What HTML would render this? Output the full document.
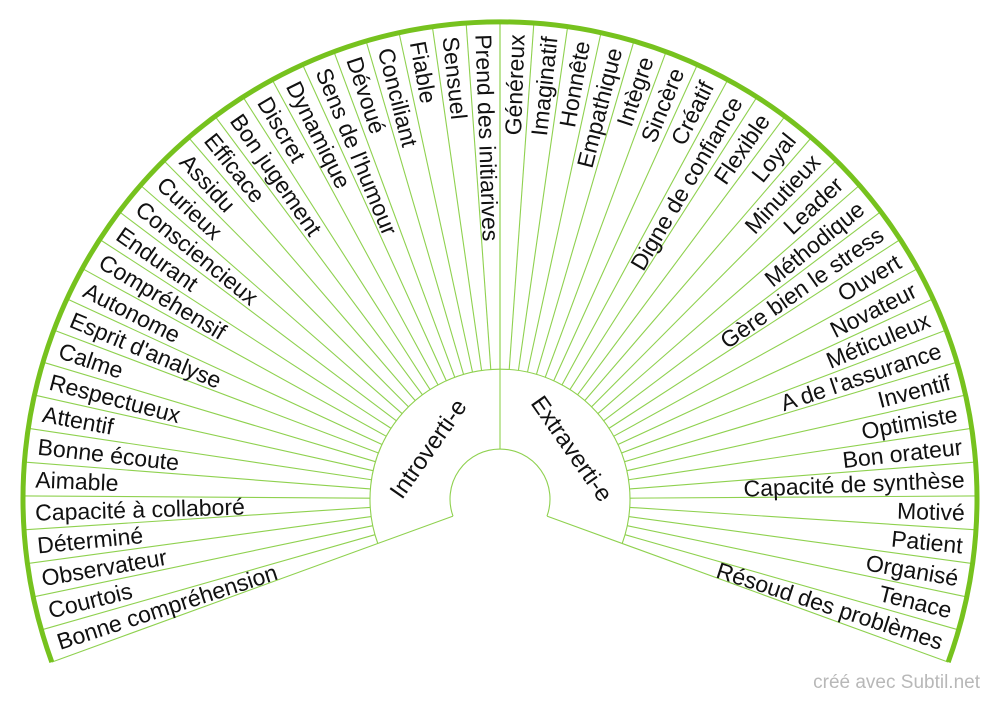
<!DOCTYPE html>
<html><head><meta charset="utf-8"><style>
html,body{margin:0;padding:0;background:#fff;}
svg{display:block;}
text{font-family:"Liberation Sans",Arial,sans-serif;fill:#111;}
</style></head><body>
<svg width="1000" height="702" viewBox="0 0 1000 702" xmlns="http://www.w3.org/2000/svg">
<g fill="none" stroke="#8fd14f" stroke-width="1.1">
<path d="M377.8,543.5 A130,130 0 1 1 622.2,543.5"/>
<path d="M453.0,516.1 A50,50 0 1 1 547.0,516.1"/>
<g transform="translate(500,499)">
<line x1="50" y1="0" x2="477" y2="0" transform="rotate(-200)"/>
<line x1="50" y1="0" x2="477" y2="0" transform="rotate(20)"/>
<line x1="50" y1="0" x2="477" y2="0" transform="rotate(-90)"/>
<g id="L">
<line x1="130" x2="477" transform="rotate(-195.93)"/><line x1="130" x2="477" transform="rotate(-191.85)"/><line x1="130" x2="477" transform="rotate(-187.78)"/><line x1="130" x2="477" transform="rotate(-183.70)"/><line x1="130" x2="477" transform="rotate(-179.63)"/><line x1="130" x2="477" transform="rotate(-175.56)"/><line x1="130" x2="477" transform="rotate(-171.48)"/><line x1="130" x2="477" transform="rotate(-167.41)"/><line x1="130" x2="477" transform="rotate(-163.33)"/><line x1="130" x2="477" transform="rotate(-159.26)"/><line x1="130" x2="477" transform="rotate(-155.19)"/><line x1="130" x2="477" transform="rotate(-151.11)"/><line x1="130" x2="477" transform="rotate(-147.04)"/><line x1="130" x2="477" transform="rotate(-142.96)"/><line x1="130" x2="477" transform="rotate(-138.89)"/><line x1="130" x2="477" transform="rotate(-134.81)"/><line x1="130" x2="477" transform="rotate(-130.74)"/><line x1="130" x2="477" transform="rotate(-126.67)"/><line x1="130" x2="477" transform="rotate(-122.59)"/><line x1="130" x2="477" transform="rotate(-118.52)"/><line x1="130" x2="477" transform="rotate(-114.44)"/><line x1="130" x2="477" transform="rotate(-110.37)"/><line x1="130" x2="477" transform="rotate(-106.30)"/><line x1="130" x2="477" transform="rotate(-102.22)"/><line x1="130" x2="477" transform="rotate(-98.15)"/><line x1="130" x2="477" transform="rotate(-94.07)"/><line x1="130" x2="477" transform="rotate(-90)"/>
<line x1="130" x2="477" transform="rotate(-85.93)"/><line x1="130" x2="477" transform="rotate(-81.85)"/><line x1="130" x2="477" transform="rotate(-77.78)"/><line x1="130" x2="477" transform="rotate(-73.70)"/><line x1="130" x2="477" transform="rotate(-69.63)"/><line x1="130" x2="477" transform="rotate(-65.56)"/><line x1="130" x2="477" transform="rotate(-61.48)"/><line x1="130" x2="477" transform="rotate(-57.41)"/><line x1="130" x2="477" transform="rotate(-53.33)"/><line x1="130" x2="477" transform="rotate(-49.26)"/><line x1="130" x2="477" transform="rotate(-45.19)"/><line x1="130" x2="477" transform="rotate(-41.11)"/><line x1="130" x2="477" transform="rotate(-37.04)"/><line x1="130" x2="477" transform="rotate(-32.96)"/><line x1="130" x2="477" transform="rotate(-28.89)"/><line x1="130" x2="477" transform="rotate(-24.81)"/><line x1="130" x2="477" transform="rotate(-20.74)"/><line x1="130" x2="477" transform="rotate(-16.67)"/><line x1="130" x2="477" transform="rotate(-12.59)"/><line x1="130" x2="477" transform="rotate(-8.52)"/><line x1="130" x2="477" transform="rotate(-4.44)"/><line x1="130" x2="477" transform="rotate(-0.37)"/><line x1="130" x2="477" transform="rotate(3.70)"/><line x1="130" x2="477" transform="rotate(7.78)"/><line x1="130" x2="477" transform="rotate(11.85)"/><line x1="130" x2="477" transform="rotate(15.93)"/>
</g>
</g>
</g>
<path d="M51.8,662.1 A477,477 0 1 1 948.2,662.1" fill="none" stroke="#76c21e" stroke-width="5"/>
<g transform="translate(500,499)" font-size="23">
<g text-anchor="start">
<text x="-465" dy="0.35em" transform="rotate(-17.96)">Bonne compréhension</text>
<text x="-465" dy="0.35em" transform="rotate(-13.89)">Courtois</text>
<text x="-465" dy="0.35em" transform="rotate(-9.81)">Observateur</text>
<text x="-465" dy="0.35em" transform="rotate(-5.74)">Déterminé</text>
<text x="-465" dy="0.35em" transform="rotate(-1.67)">Capacité à collaboré</text>
<text x="-465" dy="0.35em" transform="rotate(2.41)">Aimable</text>
<text x="-465" dy="0.35em" transform="rotate(6.48)">Bonne écoute</text>
<text x="-465" dy="0.35em" transform="rotate(10.56)">Attentif</text>
<text x="-465" dy="0.35em" transform="rotate(14.63)">Respectueux</text>
<text x="-465" dy="0.35em" transform="rotate(18.70)">Calme</text>
<text x="-465" dy="0.35em" transform="rotate(22.78)">Esprit d'analyse</text>
<text x="-465" dy="0.35em" transform="rotate(26.85)">Autonome</text>
<text x="-465" dy="0.35em" transform="rotate(30.93)">Compréhensif</text>
<text x="-465" dy="0.35em" transform="rotate(35.00)">Endurant</text>
<text x="-465" dy="0.35em" transform="rotate(39.07)">Consciencieux</text>
<text x="-465" dy="0.35em" transform="rotate(43.15)">Curieux</text>
<text x="-465" dy="0.35em" transform="rotate(47.22)">Assidu</text>
<text x="-465" dy="0.35em" transform="rotate(51.30)">Efficace</text>
<text x="-465" dy="0.35em" transform="rotate(55.37)">Bon jugement</text>
<text x="-465" dy="0.35em" transform="rotate(59.44)">Discret</text>
<text x="-465" dy="0.35em" transform="rotate(63.52)">Dynamique</text>
<text x="-465" dy="0.35em" transform="rotate(67.59)">Sens de l'humour</text>
<text x="-465" dy="0.35em" transform="rotate(71.67)">Dévoué</text>
<text x="-465" dy="0.35em" transform="rotate(75.74)">Conciliant</text>
<text x="-465" dy="0.35em" transform="rotate(79.81)">Fiable</text>
<text x="-465" dy="0.35em" transform="rotate(83.89)">Sensuel</text>
<text x="-465" dy="0.35em" transform="rotate(87.96)">Prend des initiarives</text>
</g>
<g text-anchor="end">
<text x="465" dy="0.35em" transform="rotate(-87.96)">Généreux</text>
<text x="465" dy="0.35em" transform="rotate(-83.89)">Imaginatif</text>
<text x="465" dy="0.35em" transform="rotate(-79.81)">Honnête</text>
<text x="465" dy="0.35em" transform="rotate(-75.74)">Empathique</text>
<text x="465" dy="0.35em" transform="rotate(-71.67)">Intègre</text>
<text x="465" dy="0.35em" transform="rotate(-67.59)">Sincère</text>
<text x="465" dy="0.35em" transform="rotate(-63.52)">Créatif</text>
<text x="465" dy="0.35em" transform="rotate(-59.44)">Digne de confiance</text>
<text x="465" dy="0.35em" transform="rotate(-55.37)">Flexible</text>
<text x="465" dy="0.35em" transform="rotate(-51.30)">Loyal</text>
<text x="465" dy="0.35em" transform="rotate(-47.22)">Minutieux</text>
<text x="465" dy="0.35em" transform="rotate(-43.15)">Leader</text>
<text x="465" dy="0.35em" transform="rotate(-39.07)">Méthodique</text>
<text x="465" dy="0.35em" transform="rotate(-35.00)">Gère bien le stress</text>
<text x="465" dy="0.35em" transform="rotate(-30.93)">Ouvert</text>
<text x="465" dy="0.35em" transform="rotate(-26.85)">Novateur</text>
<text x="465" dy="0.35em" transform="rotate(-22.78)">Méticuleux</text>
<text x="465" dy="0.35em" transform="rotate(-18.70)">A de l'assurance</text>
<text x="465" dy="0.35em" transform="rotate(-14.63)">Inventif</text>
<text x="465" dy="0.35em" transform="rotate(-10.56)">Optimiste</text>
<text x="465" dy="0.35em" transform="rotate(-6.48)">Bon orateur</text>
<text x="465" dy="0.35em" transform="rotate(-2.41)">Capacité de synthèse</text>
<text x="465" dy="0.35em" transform="rotate(1.67)">Motivé</text>
<text x="465" dy="0.35em" transform="rotate(5.74)">Patient</text>
<text x="465" dy="0.35em" transform="rotate(9.81)">Organisé</text>
<text x="465" dy="0.35em" transform="rotate(13.89)">Tenace</text>
<text x="465" dy="0.35em" transform="rotate(17.96)">Résoud des problèmes</text>
</g>
<text font-size="24" text-anchor="middle" dy="0.35em" transform="rotate(-55) translate(0,-88)">Introverti-e</text>
<text font-size="24" text-anchor="middle" dy="0.35em" transform="rotate(55) translate(0,-88)">Extraverti-e</text>
</g>
<text x="980" y="688" font-size="19" text-anchor="end" style="fill:#b8b8b8">créé avec Subtil.net</text>
</svg>
</body></html>
